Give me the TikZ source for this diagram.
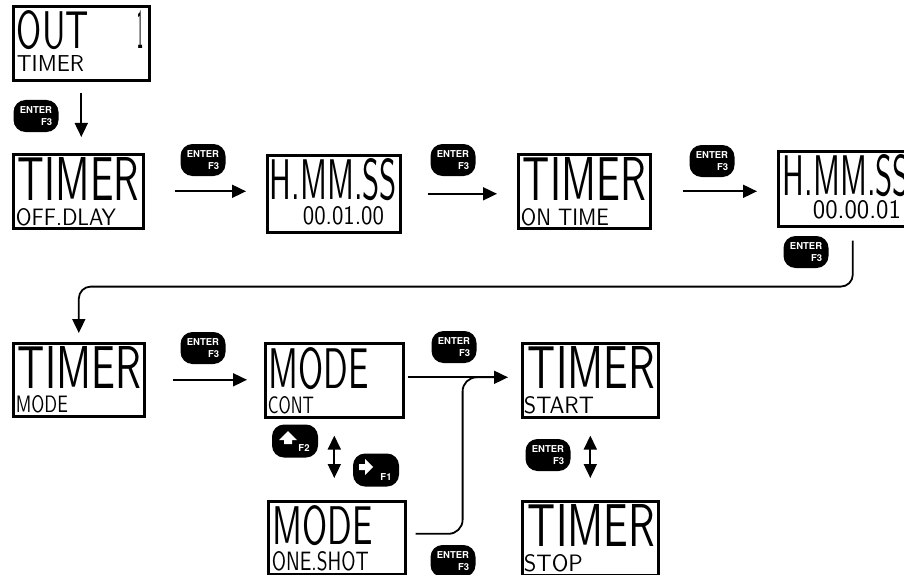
\documentclass[tikz,border=0pt]{standalone}
\usepackage{fontspec}
\usepackage{tikz}
\usetikzlibrary{arrows.meta}
\newfontfamily\keyfont{TeX Gyre Heros}
\newcommand{\lcd}[3]{\resizebox{#1}{#2}{\sffamily #3}}

\begin{document}
\begin{tikzpicture}[x=1pt,y=-1pt,line width=1.8pt]
  \tikzstyle{screen}=[draw, line width=2.6pt, anchor=north west, inner sep=0pt, minimum width=136pt, minimum height=74pt]
  \tikzstyle{upper}=[anchor=north west, inner sep=0pt]
  \tikzstyle{lower}=[anchor=south west, inner sep=0pt]
  \tikzstyle{enterkey}=[fill=black, text=white, rounded corners=12pt, minimum width=45pt, minimum height=32pt, inner sep=0pt, align=right, font=\keyfont\bfseries\fontsize{9.5}{12}\selectfont]
  \tikzstyle{fkey}=[enterkey, minimum width=46pt, minimum height=33pt]
  \tikzstyle{keytext}=[text=white, inner sep=0pt, font=\keyfont\bfseries\fontsize{9.5}{10}\selectfont]
  \tikzstyle{flow}=[-{Triangle[length=14pt,width=13pt]}]
  \tikzstyle{both}=[{Triangle[length=14pt,width=13pt]}-{Triangle[length=14pt,width=13pt]}]
  \useasboundingbox (0,0) rectangle (904,575);

  % displays
  \node[screen] (out) at (12,5) {};
  \node[upper] (outa) at ([shift={(4,5)}]out.north west) {\lcd{72pt}{38pt}{OUT}};
  \node[anchor=north east, inner sep=0pt] (outn) at ([shift={(-6,5)}]out.north east) {\lcd{6pt}{38pt}{1}};
  \node[lower] (outb) at ([shift={(4,-9)}]out.south west) {\lcd{67pt}{16pt}{TIMER}};

  \node[screen, minimum width=130pt] (offdly) at (12,153) {};
  \node[upper] (offdlya) at ([shift={(5,4)}]offdly.north west) {\lcd{121pt}{43pt}{TIMER}};
  \node[lower] (offdlyb) at ([shift={(3,-3)}]offdly.south west) {\lcd{100pt}{17pt}{OFF.DLAY}};

  \node[screen, minimum width=133pt, minimum height=77pt] (hms1) at (266,154) {};
  \node[upper] (hms1a) at ([shift={(3,4)}]hms1.north west) {\lcd{127pt}{41pt}{H.MM.SS}};
  \node[lower] (hms1b) at ([shift={(36,-8)}]hms1.south west) {\lcd{81pt}{18pt}{00.01.00}};

  \node[screen, minimum width=132pt] (ontime) at (517,153) {};
  \node[upper] (ontimea) at ([shift={(5,4)}]ontime.north west) {\lcd{123pt}{43pt}{TIMER}};
  \node[lower] (ontimeb) at ([shift={(3,-3)}]ontime.south west) {\lcd{88pt}{17pt}{ON TIME}};

  \node[screen, minimum width=135pt, minimum height=75pt] (hms2) at (777,150) {};
  \node[upper] (hms2a) at ([shift={(5,4)}]hms2.north west) {\lcd{127pt}{41pt}{H.MM.SS}};
  \node[lower] (hms2b) at ([shift={(35,-8)}]hms2.south west) {\lcd{88pt}{18pt}{00.00.01}};

  \node[screen, minimum width=131pt, minimum height=73pt] (tmode) at (12,342) {};
  \node[upper] (tmodea) at ([shift={(5,4)}]tmode.north west) {\lcd{123pt}{42pt}{TIMER}};
  \node[lower] (tmodeb) at ([shift={(3,-4)}]tmode.south west) {\lcd{52pt}{17pt}{MODE}};

  \node[screen, minimum width=138pt] (cont) at (264,342) {};
  \node[upper] (conta) at ([shift={(4,5)}]cont.north west) {\lcd{100pt}{41pt}{MODE}};
  \node[lower] (contb) at ([shift={(3,-4)}]cont.south west) {\lcd{46pt}{17pt}{CONT}};

  \node[screen] (start) at (521,342) {};
  \node[upper] (starta) at ([shift={(6,4)}]start.north west) {\lcd{127pt}{42pt}{TIMER}};
  \node[lower] (startb) at ([shift={(2,-4)}]start.south west) {\lcd{70pt}{17pt}{START}};

  \node[screen, minimum width=137pt, minimum height=73pt] (oneshot) at (267,500) {};
  \node[upper] (oneshota) at ([shift={(5,5)}]oneshot.north west) {\lcd{100pt}{39pt}{MODE}};
  \node[lower] (oneshotb) at ([shift={(4,-4)}]oneshot.south west) {\lcd{97pt}{19pt}{ONE.SHOT}};

  \node[screen] (stop) at (521,500) {};
  \node[upper] (stopa) at ([shift={(6,4)}]stop.north west) {\lcd{127pt}{42pt}{TIMER}};
  \node[lower] (stopb) at ([shift={(2,-4)}]stop.south west) {\lcd{59pt}{17pt}{STOP}};

  % keys
  \node[enterkey] (k1) at (36,116) {ENTER\\F3};
  \node[enterkey] (k2) at (203,160) {ENTER\\F3};
  \node[enterkey] (k3) at (453,160) {ENTER\\F3};
  \node[enterkey] (k4) at (712,161) {ENTER\\F3};
  \node[enterkey] (k5) at (806,252) {ENTER\\F3};
  \node[enterkey] (k6) at (203,348) {ENTER\\F3};
  \node[enterkey] (k7) at (454,347) {ENTER\\F3};
  \node[enterkey] (k8) at (453,561) {ENTER\\F3};
  \node[enterkey] (k9) at (548,455) {ENTER\\F3};
  \node[fkey] (kup) at (295,441) {};
  \node[fkey] (kright) at (376,470) {};
  \node[keytext] (kupf) at ([shift={(9,7)}]kup.center) {F2};
  \node[keytext] (krightf) at ([shift={(10,7)}]kright.center) {F1};
  \fill[white] ([shift={(-7,-10)}]kup.center) -- ++(9,9) -- ++(-5,0) -- ++(0,4) -- ++(-8,0) -- ++(0,-4) -- ++(-5,0) -- cycle;
  \fill[white] ([shift={(-3,-3)}]kright.center) -- ++(-8,-8) -- ++(0,5) -- ++(-6,0) -- ++(0,6) -- ++(6,0) -- ++(0,5) -- cycle;

  % arrows
  \draw[flow] ([yshift=-11pt]out.south) -- ([yshift=16pt]out.south |- offdly.north);
  \draw[flow] ([xshift=30pt]offdly.east) -- ([xshift=-20pt]offdly.east -| hms1.west);
  \draw[flow] ([xshift=26pt]hms1.east) -- ([xshift=-20pt]hms1.east -| ontime.west);
  \draw[flow] ([xshift=31pt]ontime.east) -- ([xshift=-20pt]ontime.east -| hms2.west);
  \draw[flow, rounded corners=12pt] ([shift={(7,13)}]hms2.south) -- ++(0,46) -| ([yshift=9pt]tmode.north);
  \draw[flow] ([xshift=27pt]tmode.east) -- ([xshift=-17pt]tmode.east -| cont.west);
  \draw[flow] ([shift={(3,-3)}]cont.east) -- ([shift={(-13,-3)}]cont.east -| start.west);
  \coordinate (bend) at ([shift={(58,-3)}]cont.east);
  \coordinate (merge) at ([shift={(90,-3)}]cont.east);
  \draw[rounded corners=14pt] ([shift={(9,-4)}]oneshot.east) -| (bend) -- (merge);
  \draw[both] ([yshift=-17pt]cont.south) -- ([yshift=22pt]cont.south |- oneshot.north);
  \draw[both] ([yshift=-17pt]start.south) -- ([yshift=22pt]start.south |- stop.north);
\end{tikzpicture}
\end{document}
